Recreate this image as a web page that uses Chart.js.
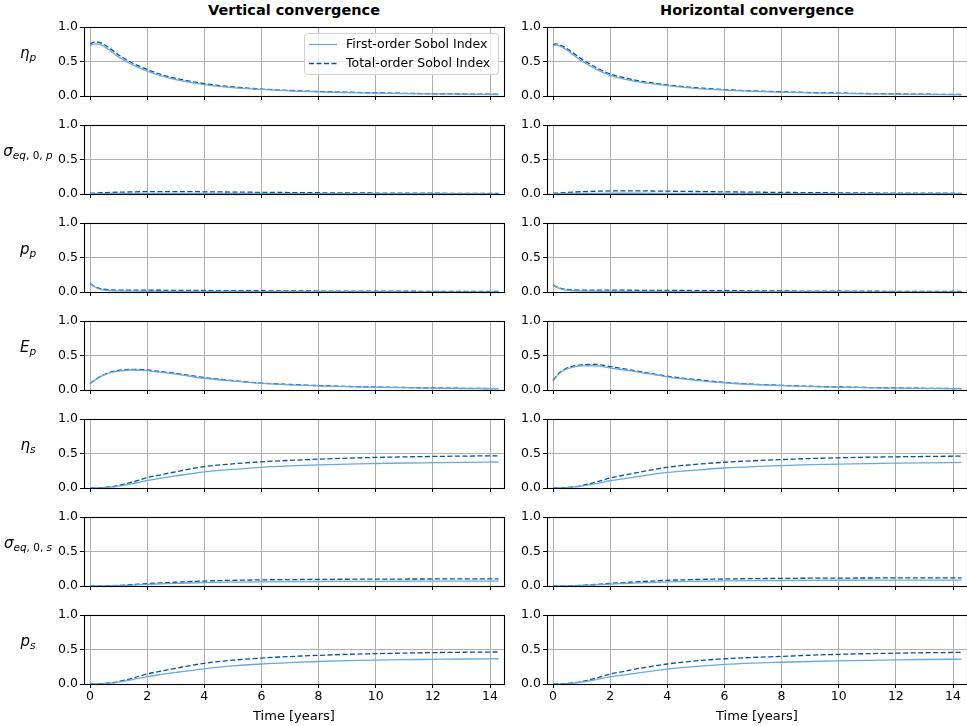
<!DOCTYPE html>
<html>
<head>
<meta charset="utf-8">
<script src="https://cdn.jsdelivr.net/npm/chart.js@4.4.1/dist/chart.umd.min.js"></script>
<style>
  html, body { margin: 0; padding: 0; background: #fff; overflow: hidden; }
  body { width: 967px; height: 726px; position: relative; font-family: "DejaVu Sans", sans-serif; }
  canvas { position: absolute; }
  .title { position: absolute; top: 2px; font-weight: bold; font-size: 14.5px; text-align: center; width: 420px; color: #000; }
  .ylab { position: absolute; width: 56px; text-align: center; font-style: italic; font-size: 15px; color: #000; white-space: nowrap; }
  .ylab sub { font-size: 10.5px; vertical-align: -3px; }
  .ylab .up { font-style: normal; }
</style>
</head>
<body>
<div class="title" style="left:84px">Vertical convergence</div>
<div class="title" style="left:547px">Horizontal convergence</div>
<script>
// ---------------- DATA ----------------
const time = [0, 0.1, 0.2, 0.4, 0.7, 1, 1.5, 2, 2.5, 3, 4, 5, 6, 7, 8, 9, 10, 11, 12, 13, 14.3];
const xTicks = [0, 2, 4, 6, 8, 10, 12, 14];
const yTicks = [0, 0.5, 1.0];
const seriesNames = ["First-order Sobol Index", "Total-order Sobol Index"];
const columnTitles = ["Vertical convergence", "Horizontal convergence"];

// Vertical convergence
const v_eta_p_first   = [0.73,0.75,0.755,0.74,0.66,0.565,0.45,0.36,0.29,0.237,0.165,0.122,0.095,0.075,0.06,0.05,0.042,0.035,0.03,0.026,0.022];
const v_eta_p_total   = [0.75,0.775,0.78,0.765,0.69,0.595,0.475,0.385,0.31,0.255,0.18,0.132,0.10,0.08,0.065,0.055,0.046,0.039,0.033,0.029,0.025];
const v_sig_p_first   = [0.003,0.004,0.005,0.006,0.007,0.008,0.009,0.01,0.01,0.01,0.009,0.008,0.007,0.006,0.006,0.005,0.005,0.004,0.004,0.004,0.003];
const v_sig_p_total   = [0.01,0.012,0.014,0.018,0.022,0.026,0.031,0.034,0.035,0.035,0.032,0.028,0.024,0.021,0.018,0.016,0.014,0.012,0.011,0.01,0.009];
const v_p_p_first     = [0.12,0.09,0.065,0.035,0.02,0.015,0.012,0.01,0.01,0.009,0.008,0.007,0.006,0.005,0.005,0.004,0.004,0.003,0.003,0.003,0.002];
const v_p_p_total     = [0.125,0.095,0.07,0.045,0.032,0.028,0.027,0.026,0.025,0.024,0.022,0.02,0.018,0.016,0.014,0.013,0.012,0.011,0.01,0.009,0.008];
const v_E_p_first     = [0.09,0.12,0.15,0.20,0.25,0.275,0.29,0.28,0.255,0.23,0.17,0.13,0.095,0.075,0.06,0.048,0.04,0.033,0.027,0.022,0.018];
const v_E_p_total     = [0.095,0.125,0.155,0.205,0.255,0.285,0.30,0.29,0.265,0.24,0.18,0.135,0.10,0.08,0.064,0.052,0.043,0.036,0.03,0.025,0.02];
const v_eta_s_first   = [0,0,0.001,0.003,0.012,0.028,0.065,0.11,0.143,0.175,0.235,0.27,0.30,0.32,0.335,0.347,0.355,0.362,0.367,0.372,0.377];
const v_eta_s_total   = [0,0,0.002,0.005,0.016,0.036,0.088,0.15,0.193,0.235,0.31,0.35,0.38,0.40,0.418,0.432,0.443,0.451,0.457,0.462,0.467];
const v_sig_s_first   = [0,0,0,0.001,0.003,0.006,0.014,0.024,0.031,0.038,0.05,0.056,0.06,0.063,0.065,0.067,0.068,0.069,0.07,0.07,0.071];
const v_sig_s_total   = [0,0,0,0.001,0.004,0.008,0.02,0.034,0.044,0.054,0.072,0.082,0.089,0.093,0.096,0.098,0.1,0.101,0.102,0.103,0.104];
const v_p_s_first     = [0,0,0.001,0.003,0.012,0.028,0.065,0.107,0.138,0.167,0.22,0.262,0.29,0.31,0.326,0.338,0.347,0.353,0.357,0.362,0.366];
const v_p_s_total     = [0,0,0.002,0.005,0.016,0.035,0.085,0.146,0.188,0.228,0.30,0.345,0.376,0.398,0.415,0.43,0.44,0.448,0.455,0.46,0.464];

// Horizontal convergence
const h_eta_p_first   = [0.73,0.74,0.73,0.69,0.60,0.51,0.39,0.30,0.245,0.205,0.15,0.11,0.085,0.068,0.056,0.046,0.038,0.032,0.027,0.023,0.02];
const h_eta_p_total   = [0.745,0.755,0.745,0.71,0.625,0.535,0.415,0.32,0.262,0.22,0.16,0.12,0.092,0.074,0.061,0.05,0.042,0.036,0.03,0.026,0.022];
const h_sig_p_first   = [0.004,0.005,0.006,0.007,0.008,0.009,0.01,0.011,0.011,0.011,0.01,0.009,0.008,0.007,0.006,0.006,0.005,0.005,0.004,0.004,0.004];
const h_sig_p_total   = [0.01,0.012,0.015,0.02,0.027,0.033,0.04,0.044,0.046,0.045,0.041,0.036,0.031,0.027,0.023,0.02,0.017,0.015,0.013,0.012,0.01];
const h_p_p_first     = [0.10,0.075,0.055,0.03,0.018,0.013,0.011,0.01,0.009,0.008,0.007,0.006,0.006,0.005,0.005,0.004,0.004,0.003,0.003,0.003,0.002];
const h_p_p_total     = [0.105,0.08,0.06,0.04,0.03,0.028,0.027,0.027,0.026,0.025,0.023,0.021,0.019,0.017,0.015,0.013,0.012,0.011,0.01,0.009,0.008];
const h_E_p_first     = [0.13,0.18,0.23,0.29,0.33,0.35,0.35,0.32,0.29,0.26,0.19,0.14,0.105,0.08,0.063,0.05,0.041,0.034,0.028,0.023,0.019];
const h_E_p_total     = [0.14,0.19,0.24,0.30,0.345,0.365,0.37,0.34,0.305,0.27,0.20,0.15,0.11,0.085,0.067,0.054,0.044,0.036,0.03,0.025,0.02];
const h_eta_s_first   = [0,0,0.001,0.003,0.012,0.027,0.063,0.105,0.137,0.167,0.225,0.26,0.29,0.31,0.325,0.338,0.347,0.354,0.36,0.365,0.37];
const h_eta_s_total   = [0,0,0.002,0.005,0.016,0.035,0.085,0.145,0.188,0.228,0.30,0.343,0.373,0.395,0.412,0.427,0.438,0.446,0.452,0.457,0.462];
const h_sig_s_first   = [0,0,0,0.001,0.003,0.007,0.016,0.027,0.036,0.045,0.06,0.068,0.074,0.078,0.08,0.082,0.083,0.084,0.085,0.085,0.086];
const h_sig_s_total   = [0,0,0,0.001,0.004,0.009,0.022,0.038,0.05,0.062,0.082,0.094,0.102,0.107,0.11,0.113,0.115,0.116,0.117,0.118,0.119];
const h_p_s_first     = [0,0,0.001,0.003,0.011,0.026,0.062,0.103,0.133,0.162,0.215,0.255,0.285,0.303,0.315,0.326,0.335,0.343,0.35,0.355,0.36];
const h_p_s_total     = [0,0,0.002,0.005,0.015,0.034,0.083,0.143,0.185,0.225,0.29,0.335,0.366,0.385,0.40,0.417,0.43,0.44,0.447,0.453,0.458];

const rowLabels = [
  '<i>η</i><sub><i>p</i></sub>',
  '<i>σ</i><sub><i>eq</i><span class="up">, 0, </span><i>p</i></sub>',
  '<i>p</i><sub><i>p</i></sub>',
  '<i>E</i><sub><i>p</i></sub>',
  '<i>η</i><sub><i>s</i></sub>',
  '<i>σ</i><sub><i>eq</i><span class="up">, 0, </span><i>s</i></sub>',
  '<i>p</i><sub><i>s</i></sub>'
];
const verticalRows = [
  [v_eta_p_first, v_eta_p_total], [v_sig_p_first, v_sig_p_total], [v_p_p_first, v_p_p_total],
  [v_E_p_first, v_E_p_total], [v_eta_s_first, v_eta_s_total], [v_sig_s_first, v_sig_s_total],
  [v_p_s_first, v_p_s_total]
];
const horizontalRows = [
  [h_eta_p_first, h_eta_p_total], [h_sig_p_first, h_sig_p_total], [h_p_p_first, h_p_p_total],
  [h_E_p_first, h_E_p_total], [h_eta_s_first, h_eta_s_total], [h_sig_s_first, h_sig_s_total],
  [h_p_s_first, h_p_s_total]
];

// ---------------- STYLE / LAYOUT ----------------
const FIRST_COLOR = '#66aade';
const TOTAL_COLOR = '#0b4f9c';
const FONT = { family: 'DejaVu Sans', size: 12.5 };
const colLeft = [84, 547];
const AXW = 420, AXH = 69;
const rowTop0 = 27, rowStep = 98;
const YAXW = 40, PADTOP = 12;

const framePlugin = {
  id: 'frame',
  afterDatasetsDraw(chart) {
    const a = chart.chartArea, ctx = chart.ctx;
    ctx.save();
    ctx.strokeStyle = '#000';
    ctx.lineWidth = 1.1;
    ctx.strokeRect(Math.round(a.left) + 0.5, Math.round(a.top) + 0.5, Math.round(a.right - a.left), Math.round(a.bottom - a.top));
    ctx.restore();
  }
};

const legendPlugin = {
  id: 'inlegend',
  afterDraw(chart) {
    if (!chart.options.plugins.inlegend || !chart.options.plugins.inlegend.show) return;
    const a = chart.chartArea, ctx = chart.ctx;
    const bx = a.right - 200, by = a.top + 6, bw = 194, bh = 41;
    ctx.save();
    ctx.fillStyle = 'rgba(255,255,255,0.8)';
    ctx.strokeStyle = '#d0d0d0';
    ctx.lineWidth = 1;
    ctx.beginPath();
    ctx.roundRect(bx + 0.5, by + 0.5, bw, bh, 3);
    ctx.fill();
    ctx.stroke();
    const ds = chart.data.datasets;
    ctx.font = '12.5px "DejaVu Sans"';
    ctx.textBaseline = 'middle';
    ds.forEach((d, i) => {
      const yy = by + 11.5 + i * 19;
      ctx.strokeStyle = d.borderColor;
      ctx.lineWidth = d.borderWidth;
      ctx.setLineDash(d.borderDash || []);
      ctx.beginPath();
      ctx.moveTo(bx + 5, yy);
      ctx.lineTo(bx + 33, yy);
      ctx.stroke();
      ctx.setLineDash([]);
      ctx.fillStyle = '#000';
      ctx.fillText(d.label, bx + 42, yy + 0.5);
    });
    ctx.restore();
  }
};

function makeChart(col, row, pair) {
  const isBottom = row === 6;
  const xAxH = isBottom ? 40 : 10;
  const cv = document.createElement('canvas');
  const W = YAXW + AXW + 12, H = PADTOP + AXH + xAxH;
  cv.width = W; cv.height = H;
  cv.style.width = W + 'px'; cv.style.height = H + 'px';
  cv.style.left = (colLeft[col] - YAXW) + 'px';
  cv.style.top = (rowTop0 + row * rowStep - PADTOP) + 'px';
  document.body.appendChild(cv);

  const datasets = [
    { label: seriesNames[0], data: time.map((t, i) => ({ x: t, y: pair[0][i] })), borderColor: FIRST_COLOR, borderWidth: 1.3, pointRadius: 0, cubicInterpolationMode: 'monotone', fill: false },
    { label: seriesNames[1], data: time.map((t, i) => ({ x: t, y: pair[1][i] })), borderColor: TOTAL_COLOR, borderWidth: 1.3, borderDash: [5, 2.5], pointRadius: 0, cubicInterpolationMode: 'monotone', fill: false }
  ];

  new Chart(cv, {
    type: 'line',
    data: { datasets },
    options: {
      responsive: false, animation: false, devicePixelRatio: 1,
      layout: { padding: { top: PADTOP, right: 12, left: 0, bottom: 0 } },
      plugins: { legend: { display: false }, tooltip: { enabled: false }, inlegend: { show: col === 0 && row === 0 } },
      scales: {
        x: {
          type: 'linear', min: -0.21, max: 14.49,
          afterBuildTicks: s => { s.ticks = xTicks.map(v => ({ value: v })); },
          afterFit: s => { s.height = xAxH; },
          ticks: { display: isBottom, font: FONT, color: '#000', padding: 1, maxRotation: 0, autoSkip: false, callback: v => String(v) },
          grid: { color: '#b0b0b0', lineWidth: 1, tickColor: '#000', tickLength: 4, drawTicks: true },
          border: { display: false },
          title: { display: isBottom, text: 'Time [years]', font: { family: 'DejaVu Sans', size: 13 }, color: '#000', padding: { top: 0, bottom: 0 } }
        },
        y: {
          min: 0, max: 1,
          afterBuildTicks: s => { s.ticks = yTicks.map(v => ({ value: v })); },
          afterFit: s => { s.width = YAXW; },
          ticks: { font: FONT, color: '#000', padding: 2, callback: v => Number(v).toFixed(1) },
          grid: { color: '#b0b0b0', lineWidth: 1, tickColor: '#000', tickLength: 4, drawTicks: true },
          border: { display: false }
        }
      }
    },
    plugins: [framePlugin, legendPlugin]
  });
}

for (let r = 0; r < 7; r++) {
  makeChart(0, r, verticalRows[r]);
  makeChart(1, r, horizontalRows[r]);
  const lab = document.createElement('div');
  lab.className = 'ylab';
  lab.innerHTML = rowLabels[r];
  lab.style.left = '0px';
  lab.style.top = (rowTop0 + r * rowStep + 17) + 'px';
  document.body.appendChild(lab);
}
</script>
</body>
</html>
